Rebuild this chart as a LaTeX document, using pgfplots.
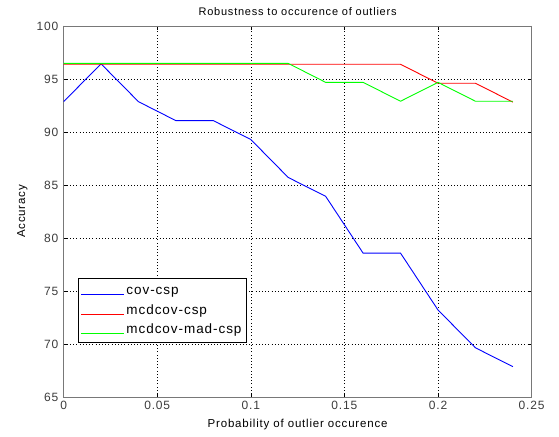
\documentclass[border=0pt]{standalone}
\usepackage{pgfplots}
\pgfplotsset{compat=1.18}
\usepackage{fontspec}
\setmainfont[LetterSpace=7]{Liberation Sans}
\definecolor{mblue}{RGB}{0,0,255}
\definecolor{mred}{RGB}{255,0,0}
\definecolor{mgreen}{RGB}{0,255,0}
\definecolor{tickgray}{RGB}{60,60,60}
\definecolor{axgray}{RGB}{120,120,120}
\newcommand{\legline}[1]{\node[inner sep=0pt, anchor=west] at (0pt,0pt) {\textcolor{#1}{\rule[-0.6pt]{43pt}{1.2pt}}};}
\begin{document}
\begin{tikzpicture}[x=1pt,y=1pt]
\fontsize{12}{14}\selectfont
\path (-63.6,-39) rectangle (495.4,397);
\begin{axis}[
  at={(0,0)}, anchor=south west,
  scale only axis, width=468pt, height=371pt,
  xmin=0, xmax=0.25, ymin=65, ymax=100,
  xtick={0,0.05,0.1,0.15,0.2,0.25},
  xticklabels={0,0.05,0.1,0.15,0.2,0.25},
  ytick={65,70,75,80,85,90,95,100},
  yticklabels={65,70,75,80,85,90,95,100},
  tick align=inside, tick pos=both,
  major tick length=4pt,
  grid=major,
  major grid style={black, line width=0.6pt, dash pattern=on 0.8pt off 2.4pt},
  axis line style={axgray, line width=0.8pt},
  every tick/.style={black, line width=0.6pt},
  ticklabel style={font=\fontsize{12}{14}\selectfont, text=tickgray},
  yticklabel style={xshift=-1pt},
  title={Robustness to occurence of outliers},
  title style={font=\fontsize{11}{13}\selectfont, yshift=0pt},
  xlabel={Probability of outlier occurence},
  ylabel={Accuracy},
  label style={font=\fontsize{11.5}{13}\selectfont},
  xlabel style={yshift=-1pt},
  ylabel style={yshift=1pt},
  legend style={at={(0.031,0.1456)}, anchor=south west, draw=black, line width=0.7pt,
    font=\fontsize{13.5}{15}\selectfont, row sep=0pt, inner xsep=3pt, inner ysep=2.5pt,
    nodes={text height=10pt, text depth=3.2pt, inner ysep=3.2pt, inner xsep=2pt}},
  legend cell align=left,
]
\addplot[color=mblue, line width=0.9pt, legend image code/.code={\legline{mblue}}] coordinates {
(0,92.86) (0.02,96.43) (0.04,92.86) (0.06,91.07) (0.08,91.07) (0.10,89.29)
(0.12,85.71) (0.14,83.93) (0.16,78.57) (0.18,78.57) (0.20,73.21) (0.22,69.64) (0.24,67.86)};
\addlegendentry{cov-csp}
\addplot[color=mred, line width=0.9pt, yshift=-0.45pt, legend image code/.code={\legline{mred}}] coordinates {
(0,96.43) (0.02,96.43) (0.04,96.43) (0.06,96.43) (0.08,96.43) (0.10,96.43)
(0.12,96.43) (0.14,96.43) (0.16,96.43) (0.18,96.43) (0.20,94.64) (0.22,94.64) (0.24,92.86)};
\addlegendentry{mcdcov-csp}
\addplot[color=mgreen, line width=0.9pt, yshift=0.45pt, legend image code/.code={\legline{mgreen}}] coordinates {
(0,96.43) (0.02,96.43) (0.04,96.43) (0.06,96.43) (0.08,96.43) (0.10,96.43)
(0.12,96.43) (0.14,94.64) (0.16,94.64) (0.18,92.86) (0.20,94.64) (0.22,92.86) (0.24,92.86)};
\addlegendentry{mcdcov-mad-csp}
\end{axis}
\end{tikzpicture}
\end{document}
